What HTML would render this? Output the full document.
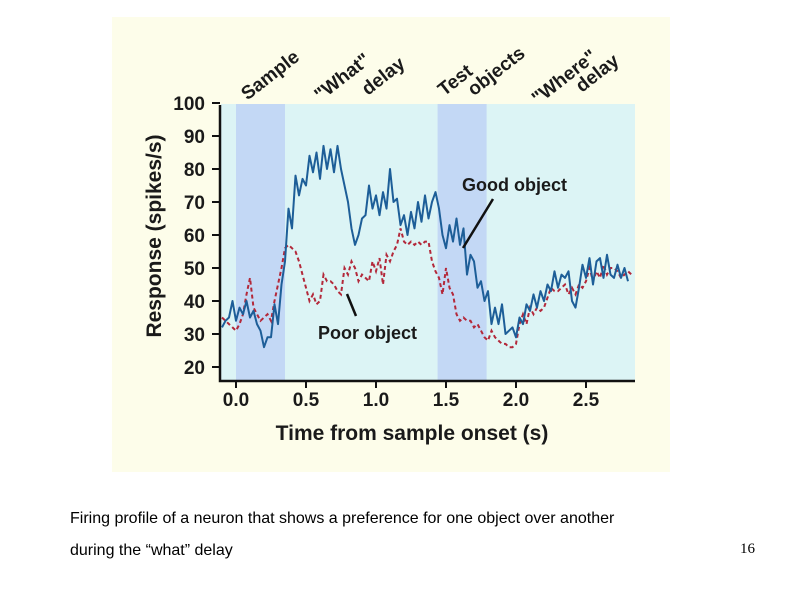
<!DOCTYPE html>
<html><head><meta charset="utf-8"><style>
body{margin:0;width:794px;height:595px;background:#fff;position:relative;overflow:hidden}
.cap{position:absolute;font-family:"Liberation Sans",sans-serif;font-size:16px;color:#000}
</style></head><body>
<svg width="794" height="595" style="position:absolute;left:0;top:0" font-family="Liberation Sans, sans-serif">
<rect x="112" y="17" width="558" height="455" fill="#fdfdea"/>
<g id="plot"></g>
</svg>
<div class="cap" style="left:70px;top:510px">Firing profile of a neuron that shows a preference for one object over another</div>
<div class="cap" style="left:70px;top:542px">during the “what” delay</div>
<div class="cap" style="left:740px;top:541px;font-family:'Liberation Serif',serif;font-size:15px">16</div>
<script>
const yTicks=[20,30,40,50,60,70,80,90,100];
const xTicks=[0.0,0.5,1.0,1.5,2.0,2.5];
const epochs=[[0,0.35],[1.44,1.79]];
const tStart=-0.1, tStep=0.025;
const goodObject=[32,34,35,40,34,38,36,40,35,37,33,31,26,29,29,39,33,45,52,68,62,78,72,77,75,84,79,85,77,87,80,86,79,87,80,75,70,62,57,60,65,66,75,68,72,66,73,68,80,70,71,63,66,60,67,62,70,64,72,65,70,73,68,60,56,63,58,65,57,62,48,54,52,44,46,40,43,33,38,33,39,30,31,32,29,35,33,39,37,42,38,43,40,45,43,49,44,48,47,49,40,38,44,51,47,53,45,52,53,47,54,48,47,51,47,50,46];
const poorObject=[35,34,33,32,31,33,36,42,47,38,36,34,35,36,34,40,45,50,56,57,56,55,52,48,44,40,42,39,40,48,46,46,45,43,42,50,48,52,50,46,48,47,46,52,49,53,45,54,52,55,57,62,58,57,58,57,58,57,58,58,52,49,47,42,50,44,42,36,34,35,34,34,32,33,31,29,28,31,29,28,27,27,26,26,27,33,36,33,38,36,38,37,38,41,44,43,43,44,45,42,44,42,45,44,46,50,46,49,47,51,48,50,50,49,47,48,49,48];
const NS="http://www.w3.org/2000/svg";
const g=document.getElementById('plot');
const X=t=>236+t*140;
const Y=v=>367-(v-20)*3.3;
function mk(tag,attrs,parent){const e=document.createElementNS(NS,tag);for(const k in attrs)e.setAttribute(k,attrs[k]);(parent||g).appendChild(e);return e;}
let e;
e=mk('rect',{x:221,y:Y(100)+1,width:414,height:381-Y(100)-1,fill:'#dcf4f5'});


epochs.forEach((ep,i)=>{
 e=mk('rect',{x:X(ep[0]),y:Y(100)+1,width:X(ep[1])-X(ep[0]),height:381-Y(100)-1,fill:'#c3d8f5'});
 
 
});
function pts(arr){return arr.map((v,i)=>X(tStart+i*tStep).toFixed(1)+','+Y(v).toFixed(1)).join(' ');}
e=mk('polyline',{points:pts(poorObject),fill:'none',stroke:'#b3283a','stroke-width':2,'stroke-dasharray':'4,3'});


e=mk('polyline',{points:pts(goodObject),fill:'none',stroke:'#1d5e98','stroke-width':2,'stroke-linejoin':'round'});


e=mk('path',{d:'M220,'+(Y(100)+2)+' V381 H635',fill:'none',stroke:'#111','stroke-width':2.5});


yTicks.forEach(v=>{
 e=mk('line',{x1:212,x2:220,y1:Y(v),y2:Y(v),stroke:'#111','stroke-width':2});
 
 
 e=mk('text',{x:205,y:Y(v)+7,'text-anchor':'end','font-size':19,'font-weight':'bold',fill:'#1a1a1a'});
 e.textContent=v;
 
 
});
xTicks.forEach(v=>{
 e=mk('line',{x1:X(v),x2:X(v),y1:381,y2:388,stroke:'#111','stroke-width':2});
 
 
 e=mk('text',{x:X(v),y:406,'text-anchor':'middle','font-size':19,'font-weight':'bold',fill:'#1a1a1a'});
 e.textContent=v.toFixed(1);
 
 
});
e=mk('text',{x:412,y:440,'text-anchor':'middle','font-size':21,'font-weight':'bold',fill:'#1a1a1a'});
e.textContent='Time from sample onset (s)';


e=mk('text',{x:0,y:0,'text-anchor':'middle','font-size':21,'font-weight':'bold',fill:'#1a1a1a',transform:'translate(161,236) rotate(-90)'});
e.textContent='Response (spikes/s)';


const epochLabels=[['Sample',274,80],['"What"',346,82],['delay',387,81],['Test',459,85],['objects',500,76],['"Where"',568,82],['delay',601,78]];
epochLabels.forEach(l=>{
 e=mk('text',{x:0,y:0,'text-anchor':'middle','font-size':19,'font-weight':'bold',fill:'#1a1a1a',transform:'translate('+l[1]+','+l[2]+') rotate(-38)'});
 e.textContent=l[0];
 
 
});
e=mk('text',{x:462,y:191,'font-size':18,'font-weight':'bold',fill:'#1a1a1a'});
e.textContent='Good object';


e=mk('line',{x1:493,y1:199,x2:463,y2:248,stroke:'#111','stroke-width':2.5});


e=mk('text',{x:318,y:339,'font-size':18,'font-weight':'bold',fill:'#1a1a1a'});
e.textContent='Poor object';


e=mk('line',{x1:347,y1:294,x2:356,y2:316,stroke:'#111','stroke-width':2.5});


</script>
</body></html>
